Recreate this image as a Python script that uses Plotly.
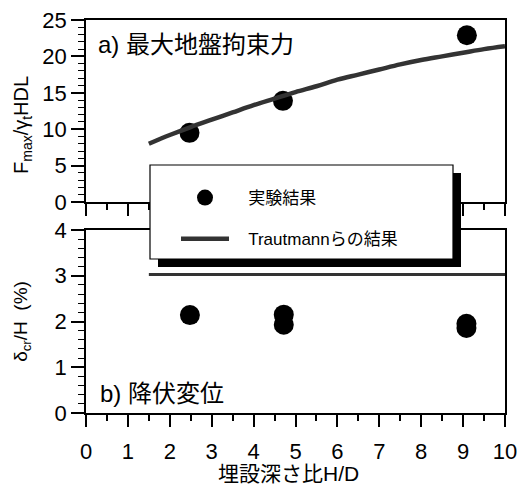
import plotly.graph_objects as go
from plotly.subplots import make_subplots

# ---- data ----
exp_top_x = [2.47, 4.7, 9.09]
exp_top_y = [9.5, 13.9, 22.9]
exp_bot_x = [2.48, 4.72, 4.72, 9.08, 9.08]
exp_bot_y = [2.14, 2.15, 1.93, 1.95, 1.86]
traut_top_x = [1.5, 2, 2.5, 3, 3.5, 4, 4.5, 5, 5.5, 6, 6.5, 7, 7.5, 8, 8.5, 9, 9.5, 10]
traut_top_y = [8.0, 9.2, 10.3, 11.3, 12.3, 13.3, 14.2, 15.1, 15.9, 16.8, 17.5, 18.2, 18.9, 19.5, 20.0, 20.5, 21.0, 21.4]
traut_bot_x = [1.5, 10]
traut_bot_y = [3.03, 3.03]
x_ticks = [0, 1, 2, 3, 4, 5, 6, 7, 8, 9, 10]
legend_names = ["実験結果", "Trautmannらの結果"]

FONT = "Liberation Sans, Arial, Noto Sans CJK JP"
LINEC = "#333333"
PAD = "\u00a0\u00a0\u00a0"

fig = make_subplots(rows=2, cols=1, shared_xaxes=False, vertical_spacing=0.0)

fig.add_trace(go.Scatter(x=exp_top_x, y=exp_top_y, mode="markers",
                         marker=dict(color="black", size=20), name=PAD + legend_names[0],
                         legendgroup="a", showlegend=True), row=1, col=1)
fig.add_trace(go.Scatter(x=traut_top_x, y=traut_top_y, mode="lines",
                         line=dict(color=LINEC, width=4.5, shape="spline"), name=PAD + legend_names[1],
                         legendgroup="b", showlegend=True), row=1, col=1)
fig.add_trace(go.Scatter(x=exp_bot_x, y=exp_bot_y, mode="markers",
                         marker=dict(color="black", size=20), name=legend_names[0],
                         legendgroup="a", showlegend=False), row=2, col=1)
fig.add_trace(go.Scatter(x=traut_bot_x, y=traut_bot_y, mode="lines",
                         line=dict(color=LINEC, width=3), name=legend_names[1],
                         legendgroup="b", showlegend=False), row=2, col=1)

W, H = 521, 484
ml, mr, mt, mb = 86, 16, 20, 71
pw, ph = W - ml - mr, H - mt - mb

def py(p):  # pixel y -> paper
    return (H - mb - p) / ph

def px(p):
    return (p - ml) / pw

axis_common = dict(showline=True, linecolor="black", linewidth=1.5, mirror=True,
                   showgrid=False, zeroline=False, ticks="outside", tickcolor="black",
                   automargin=False,
                   tickfont=dict(family=FONT, size=22, color="black"))

fig.update_xaxes(range=[0, 10], tickvals=x_ticks, ticklen=12, tickwidth=1.5,
                 ticklabelstandoff=6,
                 minor=dict(dtick=0.5, ticklen=6, ticks="outside", tickcolor="black", tickwidth=1.5),
                 **axis_common)
fig.update_xaxes(showticklabels=False, row=1, col=1)

fig.update_yaxes(range=[0, 25], dtick=5, ticklen=13, tickwidth=1.5,
                 minor=dict(dtick=1, ticklen=6, ticks="outside", tickcolor="black", tickwidth=1.2),
                 row=1, col=1, **axis_common)
fig.update_yaxes(range=[0, 4], dtick=1, ticklen=13, tickwidth=1.5,
                 minor=dict(dtick=0.2, ticklen=6, ticks="outside", tickcolor="black", tickwidth=1.2),
                 title=dict(text="δ<sub>cr</sub>/H  (%)",
                            font=dict(family=FONT, size=19, color="black"), standoff=22),
                 row=2, col=1, **axis_common)

fig.update_layout(
    width=W, height=H,
    margin=dict(l=ml, r=mr, t=mt, b=mb, autoexpand=False),
    paper_bgcolor="white", plot_bgcolor="white",
    font=dict(family=FONT, color="black"),
)
fig.layout.yaxis.domain = [py(202), 1.0]
fig.layout.yaxis2.domain = [0.0, py(230)]

# top-panel y title (placed like the reference, slightly below panel centre)
fig.add_annotation(text="F<sub>max</sub>/γ<sub>t</sub>HDL", xref="paper", yref="paper",
                   x=px(22), y=py(125), xanchor="center", yanchor="middle", textangle=-90,
                   showarrow=False, font=dict(family=FONT, size=20, color="black"))
# x title, low on the page as in the reference
fig.add_annotation(text="埋設深さ比H/D", xref="paper", yref="paper",
                   x=px(288), y=py(473), xanchor="center", yanchor="middle",
                   showarrow=False, borderpad=0,
                   font=dict(family=FONT, size=21, color="black"))

# legend box with drop shadow
bx0, bx1, by0, by1 = px(150), px(453), py(259), py(165)
sx, sy = 8 / pw, 8 / ph
fig.add_shape(type="rect", xref="paper", yref="paper", x0=bx0 + sx, x1=bx1 + sx,
              y0=by0 - sy, y1=by1 - sy, fillcolor="black", line=dict(width=0), layer="above")
fig.add_shape(type="rect", xref="paper", yref="paper", x0=bx0, x1=bx1, y0=by0, y1=by1,
              fillcolor="white", line=dict(color="black", width=1.2), layer="above")

fig.update_layout(legend=dict(
    x=px(176), y=py(180), xanchor="left", yanchor="top",
    bgcolor="rgba(0,0,0,0)", borderwidth=0,
    font=dict(family=FONT, size=17, color="black"),
    itemwidth=48, traceorder="grouped", tracegroupgap=16,
))

fig.add_annotation(text="a) 最大地盤拘束力", xref="paper", yref="paper",
                   x=px(96), y=py(45), xanchor="left", yanchor="middle", showarrow=False,
                   font=dict(family=FONT, size=24, color="black"))
fig.add_annotation(text="b) 降伏変位", xref="paper", yref="paper",
                   x=px(98), y=py(393), xanchor="left", yanchor="middle", showarrow=False,
                   font=dict(family=FONT, size=24, color="black"))

fig.write_html("out.html")
